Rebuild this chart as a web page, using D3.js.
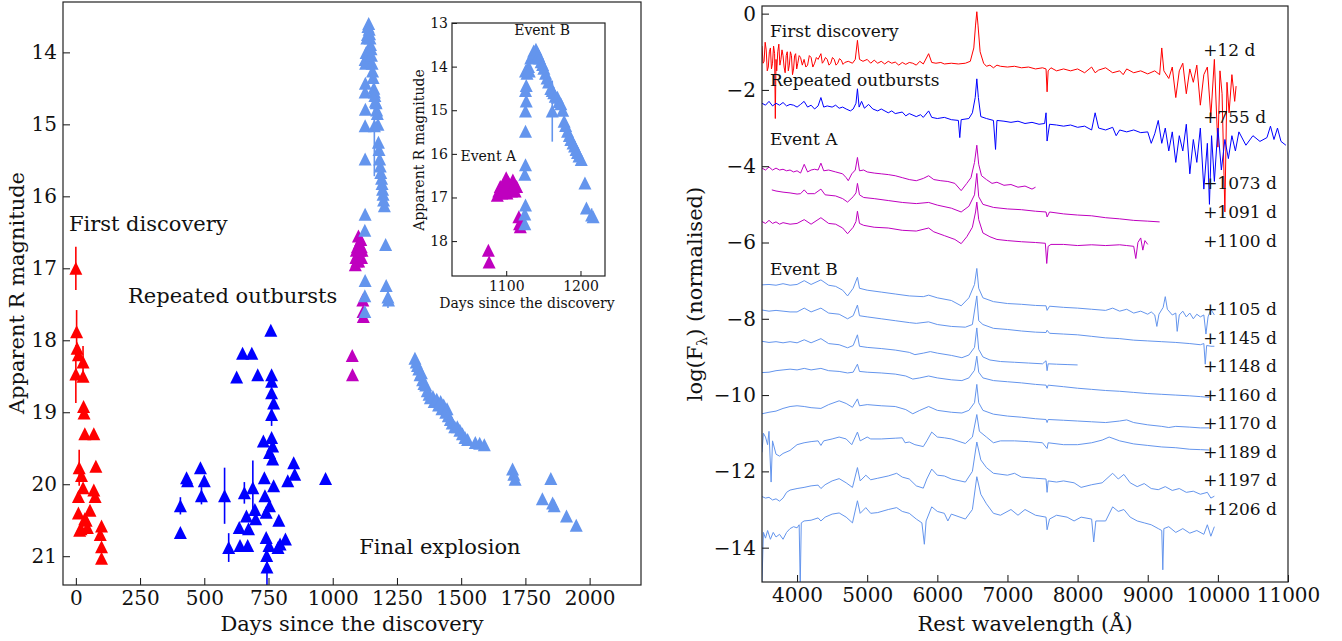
<!DOCTYPE html>
<html>
<head>
<meta charset="utf-8">
<script src="https://cdn.jsdelivr.net/npm/d3@7"></script>
<style>
	body { margin: 0; background: #fff; }
	svg { font-family: 'DejaVu Serif', serif; }
</style>
</head>
<body>
<script>
// ---- light curve: [days, R mag, error] ----
const firstDiscovery = [
	[0, 17.0, 0.3], [3, 17.88, 0.3], [5, 18.11, 0], [10, 18.2, 0], [0, 18.47, 0.4], [28, 18.3, 0.22],
	[28, 18.5, 0], [30, 18.92, 0], [32, 19.01, 0], [35, 19.3, 0], [70, 19.3, 0], [13, 19.77, 0.25],
	[78, 19.75, 0], [22, 19.88, 0], [28, 20.05, 0], [10, 20.17, 0], [70, 20.08, 0], [75, 20.17, 0],
	[10, 20.4, 0], [55, 20.36, 0], [35, 20.48, 0], [15, 20.64, 0], [45, 20.6, 0], [100, 20.58, 0],
	[95, 20.7, 0], [100, 20.87, 0], [100, 21.03, 0], [40, 20.5, 0], [20, 20.62, 0]
]
const repeatedOutbursts = [
	[407, 20.3, 0.12], [407, 20.67, 0], [431, 19.91, 0], [435, 19.95, 0], [485, 19.77, 0], [489, 20.16, 0.12],
	[500, 19.95, 0], [579, 20.16, 0.39], [595, 20.88, 0.2], [626, 18.51, 0], [649, 18.18, 0], [685, 18.18, 0],
	[708, 18.48, 0], [656, 20.12, 0.15], [639, 20.85, 0], [636, 20.6, 0], [669, 20.85, 0], [672, 20.62, 0],
	[689, 20.05, 0.38], [697, 20.35, 0], [664, 20.44, 0], [700, 20.48, 0], [730, 19.4, 0], [734, 19.91, 0],
	[736, 20.16, 0], [741, 20.39, 0], [754, 20.3, 0], [741, 20.74, 0], [743, 20.99, 0], [744, 21.15, 0.3],
	[752, 20.85, 0], [759, 17.86, 0], [762, 18.48, 0], [762, 18.57, 0], [762, 18.73, 0], [770, 18.87, 0],
	[762, 19.03, 0.16], [762, 19.35, 0], [766, 19.47, 0], [754, 19.56, 0], [766, 19.65, 0], [770, 20.02, 0],
	[790, 20.5, 0], [787, 20.88, 0], [795, 20.83, 0], [816, 20.76, 0], [825, 19.95, 0], [848, 19.7, 0],
	[852, 19.86, 0], [972, 19.92, 0.06]
]
const eventA = [
	[1076, 18.21, 0], [1077, 18.48, 0], [1088, 16.95, 0], [1090, 16.85, 0], [1092, 16.75, 0], [1094, 16.9, 0],
	[1096, 16.7, 0], [1098, 16.8, 0], [1100, 16.55, 0], [1101, 16.9, 0], [1103, 16.65, 0], [1105, 16.75, 0],
	[1107, 16.85, 0], [1109, 16.6, 0], [1111, 16.7, 0], [1112, 16.85, 0], [1114, 16.75, 0], [1117, 17.44, 0],
	[1118, 17.6, 0], [1119, 17.67, 0]
]
const eventB = [
	[1125, 17.6, 0], [1125, 17.38, 0], [1126, 17.17, 0], [1125, 16.47, 0], [1126, 16.25, 0], [1126, 15.48, 0],
	[1126, 15.02, 0], [1127, 14.79, 0], [1126, 14.55, 0], [1127, 14.43, 0], [1126, 14.1, 0], [1128, 14.15, 0],
	[1130, 14.0, 0], [1131, 14.1, 0], [1133, 13.8, 0], [1135, 13.75, 0], [1137, 13.64, 0], [1140, 13.6, 0],
	[1142, 13.68, 0], [1143.5, 13.74, 0], [1145, 13.8, 0], [1147, 13.89, 0], [1149, 13.95, 0], [1150.7, 14.04, 0],
	[1153, 14.15, 0], [1155, 14.26, 0], [1157, 14.35, 0], [1160, 14.5, 0], [1162, 15.02, 0.7], [1162, 14.55, 0],
	[1164, 14.6, 0], [1166, 14.68, 0], [1169, 14.7, 0], [1171, 14.8, 0], [1173.5, 14.85, 0], [1176, 15.0, 0],
	[1178, 15.25, 0], [1180, 15.35, 0], [1182.6, 15.48, 0], [1185, 15.58, 0], [1187, 15.67, 0], [1190, 15.75, 0],
	[1192, 15.82, 0], [1194, 15.9, 0], [1196, 15.97, 0], [1198, 16.05, 0], [1201, 16.13, 0], [1206, 16.67, 0],
	[1208, 17.24, 0], [1215, 17.4, 0.15], [1217, 17.44, 0]
]
const finalExplosion = [
	[1320, 18.25, 0], [1325, 18.3, 0], [1330, 18.35, 0], [1335, 18.4, 0], [1340, 18.48, 0], [1345, 18.45, 0],
	[1350, 18.55, 0], [1355, 18.6, 0], [1362, 18.62, 0], [1368, 18.7, 0], [1375, 18.75, 0], [1380, 18.8, 0],
	[1390, 18.78, 0], [1395, 18.85, 0], [1405, 18.82, 0], [1412, 18.9, 0], [1420, 18.85, 0], [1425, 18.95, 0],
	[1432, 18.9, 0], [1440, 19.0, 0], [1445, 18.95, 0], [1450, 19.05, 0], [1458, 19.1, 0], [1465, 19.15, 0],
	[1475, 19.2, 0], [1485, 19.2, 0], [1495, 19.25, 0], [1505, 19.3, 0], [1515, 19.35, 0], [1525, 19.38, 0],
	[1555, 19.42, 0], [1572, 19.43, 0], [1590, 19.45, 0], [1700, 19.79, 0], [1705, 19.86, 0], [1710, 19.93, 0],
	[1816, 20.2, 0], [1849, 19.92, 0], [1856, 20.26, 0], [1862, 20.3, 0], [1910, 20.44, 0], [1948, 20.57, 0]
]

// ---- spectra: [rest wavelength (A), log F (normalised, offset)] ----
const spec12 = [
	[3500, -0.85], [3515, -1.3], [3530, -1.25], [3545, -0.75], [3560, -0.95], [3575, -1.5], [3590, -1.4], [3605, -1.0],
	[3620, -0.9], [3635, -1.45], [3650, -1.3], [3665, -0.85], [3680, -1.05], [3690, -2.75], [3700, -1.2], [3710, -1.5],
	[3725, -1.0], [3740, -0.8], [3755, -1.35], [3770, -1.2], [3785, -0.95], [3800, -1.1], [3815, -1.4], [3830, -1.55],
	[3845, -1.1], [3860, -1.0], [3875, -1.5], [3890, -1.35], [3905, -1.0], [3920, -1.1], [3935, -1.6], [3950, -1.45],
	[3965, -1.1], [3980, -1.05], [3995, -1.45], [4010, -1.3], [4030, -1.1], [4050, -1.15], [4075, -1.35], [4100, -1.2],
	[4125, -1.4], [4150, -1.35], [4175, -1.1], [4200, -1.15], [4225, -1.4], [4250, -1.3], [4275, -1.15], [4300, -1.2],
	[4340, -1.05], [4360, -1.3], [4380, -1.25], [4405, -1.15], [4430, -1.2], [4455, -1.35], [4480, -1.3], [4505, -1.15],
	[4530, -1.2], [4555, -1.35], [4580, -1.3], [4605, -1.18], [4630, -1.22], [4655, -1.33], [4680, -1.28], [4730, -1.25],
	[4790, -1.3], [4830, -1.2], [4861, -0.7], [4890, -1.2], [4940, -1.25], [5000, -1.2],
	[5050, -1.3], [5100, -1.22], [5150, -1.3], [5200, -1.25], [5250, -1.32], [5300, -1.25], [5350, -1.3], [5400, -1.27],
	[5450, -1.35], [5500, -1.28], [5550, -1.33], [5600, -1.28], [5650, -1.3], [5700, -1.35], [5750, -1.25], [5800, -1.32],
	[5876, -1.05], [5920, -1.28], [5980, -1.3], [6050, -1.28], [6100, -1.32], [6200, -1.3], [6300, -1.32], [6400, -1.3],
	[6470, -1.25], [6520, -0.9], [6545, -0.3], [6563, 0.05], [6580, -0.3], [6610, -1.0], [6660, -1.3], [6700, -1.38],
	[6750, -1.35], [6800, -1.42], [6850, -1.35], [6900, -1.38], [7000, -1.4], [7100, -1.38], [7200, -1.42], [7300, -1.4],
	[7400, -1.45], [7500, -1.42], [7550, -1.45], [7565, -2.05], [7580, -1.5], [7620, -1.42], [7700, -1.5], [7800, -1.45],
	[7900, -1.5], [8000, -1.45], [8100, -1.55], [8200, -1.4], [8250, -1.55], [8300, -1.48], [8400, -1.42], [8500, -1.55],
	[8600, -1.5], [8650, -1.6], [8700, -1.45], [8800, -1.55], [8900, -1.5], [9000, -1.58], [9100, -1.5], [9170, -1.6],
	[9200, -0.9], [9230, -1.5], [9300, -1.7], [9350, -1.4], [9400, -2.2], [9450, -1.5], [9500, -1.3], [9550, -2.1],
	[9600, -1.45], [9650, -1.8], [9700, -1.35], [9750, -2.4], [9800, -1.6], [9850, -1.4], [9900, -2.7], [9950, -1.2],
	[10000, -3.5], [10030, -1.5], [10060, -2.1], [10100, -5.2], [10130, -1.8], [10160, -2.6], [10200, -1.6], [10240, -2.3],
	[10260, -1.9]
]
const spec755 = [
	[3500, -2.35], [3550, -2.4], [3600, -2.3], [3650, -2.42], [3700, -2.35], [3750, -2.4], [3800, -2.33], [3850, -2.42],
	[3900, -2.38], [3950, -2.4], [4000, -2.45], [4050, -2.38], [4100, -2.3], [4150, -2.45], [4200, -2.4], [4250, -2.5],
	[4300, -2.42], [4340, -2.2], [4380, -2.45], [4430, -2.42], [4500, -2.45], [4550, -2.4], [4600, -2.48], [4650, -2.45],
	[4700, -2.5], [4760, -2.55], [4800, -2.5], [4840, -2.35], [4861, -1.97], [4885, -2.45], [4920, -2.3], [4960, -2.48],
	[5020, -2.38], [5080, -2.5], [5150, -2.55], [5200, -2.5], [5300, -2.6], [5350, -2.55], [5400, -2.62], [5500, -2.58],
	[5550, -2.68], [5600, -2.62], [5700, -2.7], [5760, -2.65], [5800, -2.72], [5876, -2.55], [5920, -2.72], [6000, -2.75],
	[6100, -2.72], [6200, -2.78], [6300, -2.8], [6320, -3.25], [6340, -2.78], [6450, -2.75], [6500, -2.6], [6540, -2.2],
	[6563, -1.71], [6585, -2.2], [6620, -2.7], [6700, -2.75], [6800, -2.8], [6830, -3.56], [6850, -2.8], [6950, -2.82],
	[7050, -2.85], [7150, -2.82], [7250, -2.88], [7350, -2.85], [7450, -2.9], [7530, -2.88], [7550, -2.6], [7565, -3.34],
	[7600, -2.9], [7700, -2.92], [7800, -2.95], [7900, -2.92], [8000, -2.98], [8100, -2.95], [8200, -3.05], [8250, -2.6],
	[8300, -3.0], [8400, -3.05], [8500, -2.98], [8550, -3.2], [8600, -3.05], [8700, -3.1], [8800, -3.05], [8900, -3.12],
	[9000, -3.1], [9050, -3.4], [9100, -3.15], [9150, -2.8], [9200, -3.4], [9250, -3.0], [9300, -3.6], [9350, -3.1],
	[9400, -3.9], [9450, -3.2], [9500, -3.6], [9550, -2.9], [9600, -4.2], [9650, -3.3], [9700, -3.9], [9750, -3.0],
	[9800, -4.6], [9850, -3.4], [9880, -5.0], [9910, -3.2], [9950, -4.4], [10000, -3.0], [10050, -4.1], [10100, -3.3],
	[10150, -3.8], [10200, -3.2], [10250, -3.6], [10300, -3.1], [10400, -3.45], [10500, -3.2], [10600, -3.35], [10700, -3.25],
	[10750, -2.95], [10800, -3.3], [10850, -3.0], [10900, -3.35], [10970, -3.45]
]
const spec1073 = [
	[3500, -4.05], [3550, -4.1], [3600, -4.02], [3650, -4.1], [3700, -4.05], [3750, -4.1], [3800, -4.08], [3850, -4.12],
	[3900, -4.1], [3950, -4.15], [4000, -4.12], [4050, -4.18], [4102, -3.95], [4150, -4.15], [4200, -4.1], [4250, -4.08],
	[4300, -4.1], [4340, -3.92], [4380, -4.12], [4450, -4.1], [4550, -4.15], [4650, -4.2], [4700, -4.3], [4730, -4.38],
	[4780, -4.2], [4830, -4.1], [4861, -3.77], [4890, -4.12], [4950, -4.1], [5000, -4.15], [5100, -4.18], [5200, -4.2],
	[5300, -4.22], [5400, -4.25], [5500, -4.3], [5600, -4.35], [5700, -4.38], [5800, -4.32], [5876, -4.25], [5950, -4.35],
	[6050, -4.38], [6150, -4.4], [6250, -4.45], [6340, -4.64], [6420, -4.45], [6480, -4.3], [6530, -3.9], [6563, -3.45],
	[6590, -3.95], [6630, -4.25], [6700, -4.35], [6780, -4.45], [6850, -4.42], [6950, -4.5], [7050, -4.48], [7150, -4.55],
	[7250, -4.52], [7350, -4.6], [7400, -4.55]
]
const spec1091 = [
	[3640, -4.62], [3700, -4.65], [3800, -4.68], [3900, -4.7], [4000, -4.73], [4050, -4.72], [4102, -4.62], [4150, -4.72],
	[4250, -4.72], [4340, -4.6], [4400, -4.75], [4550, -4.78], [4650, -4.85], [4720, -4.94], [4800, -4.8], [4840, -4.7],
	[4861, -4.45], [4890, -4.75], [4950, -4.82], [5100, -4.85], [5300, -4.9], [5500, -4.95], [5700, -4.98], [5876, -4.95],
	[6000, -5.02], [6200, -5.1], [6340, -5.2], [6450, -5.05], [6530, -4.75], [6563, -4.19], [6590, -4.8], [6650, -5.0],
	[6800, -5.08], [7000, -5.12], [7200, -5.14], [7400, -5.18], [7550, -5.2], [7565, -5.33], [7600, -5.2], [7800, -5.25],
	[8000, -5.28], [8200, -5.3], [8400, -5.35], [8600, -5.38], [8800, -5.42], [9000, -5.44], [9170, -5.46]
]
const spec1100 = [
	[3500, -5.45], [3550, -5.5], [3600, -5.42], [3650, -5.5], [3700, -5.46], [3750, -5.52], [3800, -5.48], [3900, -5.52],
	[4000, -5.5], [4102, -5.4], [4200, -5.52], [4340, -5.35], [4450, -5.5], [4550, -5.52], [4650, -5.62], [4720, -5.77],
	[4800, -5.6], [4840, -5.45], [4861, -5.18], [4890, -5.5], [4950, -5.55], [5100, -5.6], [5300, -5.62], [5500, -5.68],
	[5700, -5.7], [5876, -5.62], [5950, -5.72], [6100, -5.82], [6250, -5.92], [6340, -6.03], [6420, -5.85], [6500, -5.6],
	[6545, -5.2], [6563, -4.94], [6590, -5.4], [6650, -5.75], [6750, -5.85], [6850, -5.92], [7000, -5.95], [7200, -5.98],
	[7400, -6.0], [7540, -6.02], [7560, -6.55], [7580, -6.1], [7620, -6.05], [7800, -6.05], [8000, -6.08], [8200, -6.06],
	[8400, -6.08], [8600, -6.06], [8700, -6.08], [8800, -6.1], [8830, -6.42], [8860, -6.0], [8900, -5.88], [8930, -6.2],
	[8960, -5.95], [9000, -6.05]
]
const spec1105 = [
	[3500, -7.11], [3600, -7.1], [3700, -7.12], [3800, -7.08], [3900, -7.12], [4000, -7.1], [4102, -7.0], [4200, -7.1],
	[4340, -6.98], [4450, -7.12], [4550, -7.15], [4650, -7.25], [4720, -7.4], [4800, -7.2], [4861, -6.91], [4890, -7.2],
	[5000, -7.25], [5200, -7.3], [5400, -7.35], [5600, -7.4], [5800, -7.42], [5876, -7.38], [6000, -7.45], [6200, -7.52],
	[6340, -7.66], [6450, -7.45], [6530, -7.1], [6563, -6.68], [6590, -7.2], [6650, -7.45], [6800, -7.55], [7000, -7.6],
	[7200, -7.62], [7400, -7.65], [7550, -7.66], [7565, -7.78], [7600, -7.67], [7800, -7.7], [8000, -7.72], [8200, -7.75],
	[8400, -7.78], [8500, -7.72], [8600, -7.8], [8700, -7.75], [8800, -7.85], [8900, -7.8], [9000, -7.88], [9050, -7.82],
	[9100, -7.9], [9130, -8.2], [9160, -7.88], [9220, -7.7], [9250, -7.42], [9280, -7.75], [9350, -7.9], [9400, -7.85],
	[9420, -8.33], [9450, -7.9], [9500, -7.8], [9550, -7.95], [9600, -7.85], [9650, -8.0], [9700, -7.88], [9750, -7.95],
	[9800, -7.9], [9830, -8.4], [9860, -7.95], [9900, -7.75], [9950, -7.9]
]
const spec1145 = [
	[3500, -7.77], [3600, -7.8], [3700, -7.78], [3800, -7.8], [3900, -7.82], [4000, -7.82], [4102, -7.72], [4200, -7.82],
	[4340, -7.72], [4450, -7.85], [4600, -7.88], [4720, -8.0], [4800, -7.92], [4861, -7.64], [4890, -7.92], [5000, -7.95],
	[5200, -8.0], [5400, -8.05], [5600, -8.1], [5700, -8.12], [5876, -8.08], [6000, -8.15], [6200, -8.2], [6400, -8.22],
	[6500, -8.15], [6563, -7.4], [6590, -8.05], [6650, -8.15], [6800, -8.25], [7000, -8.28], [7200, -8.32], [7400, -8.35],
	[7550, -8.36], [7565, -8.3], [7600, -8.38], [7800, -8.4], [8000, -8.42], [8200, -8.46], [8400, -8.5], [8600, -8.52],
	[8800, -8.56], [9000, -8.58], [9200, -8.6], [9400, -8.62], [9600, -8.65], [9750, -8.68], [9800, -8.65], [9820, -9.19],
	[9840, -8.7], [9900, -8.72], [9950, -8.72]
]
const spec1148 = [
	[3500, -8.59], [3600, -8.62], [3700, -8.6], [3800, -8.63], [3900, -8.6], [4000, -8.63], [4102, -8.55], [4200, -8.63],
	[4340, -8.52], [4450, -8.65], [4600, -8.68], [4720, -8.76], [4800, -8.7], [4861, -8.42], [4890, -8.72], [5000, -8.75],
	[5200, -8.78], [5400, -8.82], [5600, -8.88], [5680, -8.94], [5800, -8.9], [5900, -8.86], [6000, -8.9], [6200, -8.96],
	[6350, -9.02], [6450, -8.95], [6530, -8.75], [6563, -8.24], [6590, -8.8], [6650, -9.0], [6750, -9.08], [6900, -9.12],
	[7100, -9.14], [7300, -9.16], [7500, -9.18], [7550, -9.1], [7565, -9.36], [7580, -9.18], [7700, -9.19], [7850, -9.2],
	[8000, -9.21]
]
const spec1160 = [
	[3500, -9.41], [3600, -9.4], [3700, -9.36], [3800, -9.34], [3900, -9.32], [4000, -9.34], [4102, -9.3], [4200, -9.34],
	[4340, -9.3], [4450, -9.36], [4600, -9.38], [4720, -9.42], [4800, -9.4], [4861, -9.19], [4890, -9.38], [5000, -9.4],
	[5200, -9.42], [5400, -9.45], [5550, -9.5], [5650, -9.58], [5750, -9.55], [5876, -9.5], [6000, -9.55], [6200, -9.6],
	[6350, -9.62], [6450, -9.55], [6530, -9.35], [6563, -8.98], [6590, -9.4], [6650, -9.55], [6800, -9.62], [7000, -9.65],
	[7200, -9.68], [7400, -9.72], [7550, -9.74], [7565, -9.82], [7580, -9.74], [7800, -9.78], [8000, -9.82], [8200, -9.85],
	[8400, -9.88], [8600, -9.9], [8800, -9.93], [9000, -9.96], [9200, -9.98], [9400, -10.0], [9600, -10.02], [9750, -10.04],
	[9880, -10.06]
]
const spec1170 = [
	[3500, -10.49], [3600, -10.45], [3700, -10.42], [3800, -10.35], [3900, -10.3], [4000, -10.28], [4102, -10.3], [4200, -10.33],
	[4340, -10.35], [4450, -10.25], [4600, -10.15], [4700, -10.22], [4790, -10.32], [4861, -10.1], [4890, -10.28], [5000, -10.25],
	[5200, -10.28], [5400, -10.3], [5550, -10.38], [5650, -10.49], [5750, -10.4], [5876, -10.3], [6000, -10.4], [6200, -10.45],
	[6350, -10.47], [6450, -10.4], [6530, -10.2], [6563, -9.72], [6590, -10.2], [6650, -10.4], [6800, -10.5], [7000, -10.55],
	[7200, -10.58], [7400, -10.62], [7550, -10.64], [7565, -10.72], [7580, -10.64], [7800, -10.66], [8000, -10.68], [8200, -10.7],
	[8400, -10.72], [8600, -10.68], [8700, -10.65], [8800, -10.72], [9000, -10.78], [9200, -10.82], [9300, -10.85], [9400, -10.82],
	[9600, -10.84], [9750, -10.86], [9880, -10.86]
]
const spec1189 = [
	[3500, -11.5], [3520, -11.0], [3550, -11.1], [3580, -11.3], [3600, -10.95], [3630, -12.28], [3650, -11.2], [3700, -11.55],
	[3750, -11.6], [3800, -11.53], [3900, -11.45], [4000, -11.3], [4100, -11.25], [4200, -11.22], [4300, -11.2], [4340, -11.32],
	[4380, -11.2], [4500, -11.15], [4600, -11.1], [4700, -11.15], [4780, -11.3], [4861, -10.97], [4900, -11.2], [5000, -11.1],
	[5050, -11.15], [5200, -11.15], [5400, -11.13], [5500, -11.12], [5540, -11.25], [5600, -11.23], [5680, -11.3], [5800, -11.35],
	[5850, -11.2], [5920, -10.97], [6000, -11.1], [6100, -11.12], [6200, -11.15], [6400, -11.27], [6500, -11.1], [6563, -10.51],
	[6600, -10.95], [6700, -11.1], [6800, -11.25], [6900, -11.2], [7100, -11.2], [7300, -11.22], [7500, -11.25], [7565, -11.4],
	[7580, -11.25], [7800, -11.3], [8000, -11.3], [8200, -11.25], [8350, -11.18], [8450, -11.1], [8600, -11.2], [8800, -11.28],
	[9000, -11.32], [9200, -11.36], [9400, -11.38], [9600, -11.42], [9750, -11.43], [9880, -11.44]
]
const spec1197 = [
	[3500, -12.66], [3550, -12.7], [3600, -12.68], [3650, -12.75], [3700, -12.72], [3750, -12.78], [3800, -12.7], [3850, -12.55],
	[3900, -12.49], [4000, -12.45], [4100, -12.42], [4200, -12.38], [4300, -12.36], [4340, -12.45], [4400, -12.35], [4500, -12.25],
	[4600, -12.19], [4700, -12.3], [4790, -12.42], [4861, -11.9], [4900, -12.25], [4980, -12.1], [5050, -12.22], [5150, -12.18],
	[5300, -12.12], [5420, -12.05], [5500, -12.15], [5600, -12.2], [5700, -12.38], [5800, -12.44], [5850, -12.2], [5920, -11.94],
	[6000, -12.1], [6100, -12.12], [6200, -12.2], [6400, -12.28], [6500, -12.0], [6563, -11.23], [6620, -11.7], [6700, -11.9],
	[6800, -12.05], [7000, -12.1], [7100, -12.05], [7200, -12.15], [7400, -12.18], [7550, -12.2], [7565, -12.55], [7580, -12.25],
	[7700, -12.28], [7800, -12.25], [7950, -12.3], [8050, -12.42], [8200, -12.35], [8350, -12.3], [8500, -12.05], [8580, -12.2],
	[8660, -12.08], [8750, -12.3], [8850, -12.4], [8950, -12.32], [9050, -12.45], [9150, -12.48], [9250, -12.4], [9350, -12.5],
	[9450, -12.45], [9550, -12.55], [9650, -12.52], [9750, -12.6], [9850, -12.55], [9900, -12.7], [9950, -12.65]
]
const spec1206 = [
	[3500, -14.9], [3520, -13.6], [3550, -13.75], [3580, -13.55], [3620, -13.78], [3660, -13.6], [3700, -13.72], [3750, -13.65],
	[3800, -13.78], [3850, -13.6], [3900, -13.5], [3950, -13.45], [4000, -13.48], [4030, -13.4], [4045, -15.0], [4060, -13.35],
	[4100, -13.3], [4200, -13.28], [4300, -13.22], [4340, -13.3], [4400, -13.2], [4500, -13.12], [4600, -13.09], [4700, -13.2],
	[4790, -13.35], [4861, -12.77], [4900, -13.1], [4980, -12.95], [5050, -13.1], [5150, -13.08], [5300, -13.0], [5420, -12.95],
	[5500, -13.05], [5600, -13.1], [5700, -13.25], [5780, -13.35], [5815, -13.91], [5840, -13.3], [5920, -12.93], [6000, -13.05],
	[6100, -13.1], [6150, -13.3], [6200, -13.12], [6400, -13.25], [6500, -13.0], [6563, -12.14], [6620, -12.6], [6700, -12.85],
	[6800, -13.1], [6900, -13.15], [7050, -13.0], [7150, -13.15], [7250, -13.0], [7400, -13.15], [7550, -13.2], [7565, -13.53],
	[7600, -13.25], [7700, -13.15], [7850, -13.2], [7950, -13.3], [8050, -13.2], [8200, -13.25], [8230, -13.85], [8260, -13.3],
	[8400, -13.3], [8500, -12.93], [8580, -13.05], [8660, -13.0], [8750, -13.2], [8850, -13.3], [8950, -13.35], [9050, -13.4],
	[9150, -13.5], [9200, -13.55], [9215, -14.58], [9230, -13.5], [9300, -13.45], [9400, -13.6], [9500, -13.5], [9600, -13.62],
	[9700, -13.55], [9800, -13.65], [9850, -13.4], [9900, -13.7], [9950, -13.45]
]
const epochs = ['+12 d', '+755 d', '+1073 d', '+1091 d', '+1100 d', '+1105 d', '+1145 d', '+1148 d', '+1160 d', '+1170 d', '+1189 d', '+1197 d', '+1206 d']

// ---- ticks ----
const lcTicksX = [0, 250, 500, 750, 1000, 1250, 1500, 1750, 2000]
const lcTicksY = [14, 15, 16, 17, 18, 19, 20, 21]
const insetTicksX = [1100, 1200]
const insetTicksY = [13, 14, 15, 16, 17, 18]
const specTicksX = [4000, 5000, 6000, 7000, 8000, 9000, 10000, 11000]
const specTicksY = [0, -2, -4, -6, -8, -10, -12, -14]

const RED = '#ff0000', BLUE = '#0000ff', MAG = '#bf00bf', CBLUE = '#6495ed'

const svg = d3.select('body').append('svg').attr('width', 1342).attr('height', 641)
const defs = svg.append('defs')

function clip(id, w, h) {
	defs.append('clipPath').attr('id', id).append('rect').attr('width', w).attr('height', h)
	return 'url(#' + id + ')'
}

function range(a, b, step) {
	return d3.range(Math.round(a / step), Math.round(b / step) + 1).map(i => +(i * step).toFixed(4))
}

// inward ticks on left and bottom, frame all round
function drawAxes(g, x, y, o) {
	const w = x.range()[1], h = y.range()[1]
	const fmt = d => d3.format('d')(d).replace('-', '\u2212')
	const bx = g.append('g').attr('transform', 'translate(0,' + h + ')')
	bx.call(d3.axisBottom(x).tickValues(o.minX).tickSizeInner(-o.minor).tickSizeOuter(0).tickFormat(''))
	bx.call(d3.axisBottom(x).tickValues(o.ticksX).tickSizeInner(-o.major).tickSizeOuter(0).tickPadding(o.padX).tickFormat(fmt))
	const ly = g.append('g')
	ly.call(d3.axisLeft(y).tickValues(o.minY).tickSizeInner(-o.minor).tickSizeOuter(0).tickFormat(''))
	ly.call(d3.axisLeft(y).tickValues(o.ticksY).tickSizeInner(-o.major).tickSizeOuter(0).tickPadding(o.padY).tickFormat(fmt))
	g.selectAll('.domain').remove()
	g.selectAll('.tick line').attr('stroke', '#111').attr('stroke-width', 1)
	g.selectAll('.tick text').attr('font-family', "'DejaVu Serif', serif").attr('font-size', o.font).attr('fill', '#111')
	g.append('rect').attr('width', w).attr('height', h).attr('fill', 'none').attr('stroke', '#222').attr('stroke-width', 1.2)
}

function triangle(s) {
	return 'M0,' + (-s / 2) + 'L' + (s / 2) + ',' + (s / 2) + 'L' + (-s / 2) + ',' + (s / 2) + 'Z'
}

function drawPoints(g, x, y, data, color, s) {
	const errs = data.filter(d => d[2] > 0)
	g.selectAll(null).data(errs).join('line')
		.attr('x1', d => x(d[0])).attr('x2', d => x(d[0]))
		.attr('y1', d => y(d[1] - d[2])).attr('y2', d => y(d[1] + d[2]))
		.attr('stroke', color).attr('stroke-width', 1.6)
	g.selectAll(null).data(data).join('path')
		.attr('d', triangle(s))
		.attr('transform', d => 'translate(' + x(d[0]) + ',' + y(d[1]) + ')')
		.attr('fill', color)
}

function label(g, x, y, text, size, anchor) {
	return g.append('text').attr('x', x).attr('y', y).attr('font-size', size)
		.attr('text-anchor', anchor || 'start').attr('fill', '#111').text(text)
}

// ================= light curve =================
const lc = svg.append('g').attr('transform', 'translate(63,2)')
const xL = d3.scaleLinear().domain([-50, 2200]).range([0, 578])
const yL = d3.scaleLinear().domain([13.3, 21.4]).range([0, 583])

const lcBody = lc.append('g').attr('clip-path', clip('clipL', 578, 583))
const lcSeries = [[firstDiscovery, RED], [repeatedOutbursts, BLUE], [eventA, MAG], [eventB, CBLUE], [finalExplosion, CBLUE]]
lcSeries.forEach(s => drawPoints(lcBody, xL, yL, s[0], s[1], 13))

drawAxes(lc, xL, yL, {
	ticksX: lcTicksX, ticksY: lcTicksY, minX: range(-50, 2200, 50), minY: range(13.4, 21.4, 0.2),
	major: 7, minor: 4, padX: 6, padY: 6, font: 20
})
label(lc, xL(-27), yL(16.48), 'First discovery', 21)
label(lc, xL(203), yL(17.48), 'Repeated outbursts', 21)
label(lc, xL(1103), yL(20.97), 'Final explosion', 21)
label(svg, 352, 631, 'Days since the discovery', 21, 'middle')
label(svg, 0, 0, 'Apparent R magnitude', 21, 'middle').attr('transform', 'translate(24,293) rotate(-90)')

// ---- inset ----
const ins = svg.append('g').attr('transform', 'translate(452,23)')
const xI = d3.scaleLinear().domain([1027, 1233]).range([0, 153])
const yI = d3.scaleLinear().domain([13, 18.8]).range([0, 253])
ins.append('rect').attr('width', 153).attr('height', 253).attr('fill', '#fff')
const insBody = ins.append('g').attr('clip-path', clip('clipI', 153, 253))
lcSeries.forEach(s => drawPoints(insBody, xI, yI, s[0], s[1], 13))
drawAxes(ins, xI, yI, {
	ticksX: insetTicksX, ticksY: insetTicksY, minX: range(1040, 1220, 20), minY: range(13.2, 18.8, 0.2),
	major: 5, minor: 3, padX: 5, padY: 4, font: 14
})
label(ins, xI(1110.7), yI(13.27), 'Event B', 14)
label(ins, xI(1038.4), yI(16.17), 'Event A', 14)
label(svg, 527, 308, 'Days since the discovery', 14, 'middle')
label(svg, 0, 0, 'Apparent R magnitude', 14, 'middle').attr('transform', 'translate(424,150) rotate(-90)')

// ================= spectra =================
const sp = svg.append('g').attr('transform', 'translate(762,6)')
const xR = d3.scaleLinear().domain([3500, 11000]).range([0, 526])
const yR = d3.scaleLinear().domain([0.2, -14.9]).range([0, 576])
const specBody = sp.append('g').attr('clip-path', clip('clipR', 526, 576))
const spectra = [
	[spec12, RED], [spec755, BLUE], [spec1073, MAG], [spec1091, MAG], [spec1100, MAG],
	[spec1105, CBLUE], [spec1145, CBLUE], [spec1148, CBLUE], [spec1160, CBLUE], [spec1170, CBLUE],
	[spec1189, CBLUE], [spec1197, CBLUE], [spec1206, CBLUE]
]
const line = d3.line().x(d => xR(d[0])).y(d => yR(d[1]))
specBody.selectAll(null).data(spectra).join('path')
	.attr('d', d => line(d[0])).attr('fill', 'none')
	.attr('stroke', d => d[1]).attr('stroke-width', 1).attr('stroke-linejoin', 'round')

drawAxes(sp, xR, yR, {
	ticksX: specTicksX, ticksY: specTicksY, minX: range(3600, 11000, 200), minY: range(-14.5, 0, 0.5),
	major: 7, minor: 4, padX: 6, padY: 6, font: 20
})

// epoch labels sit in a column near the right edge
const epochY = [-1.0, -2.75, -4.49, -5.25, -6.0, -7.77, -8.55, -9.28, -10.03, -10.78, -11.53, -12.27, -13.02]
epochs.forEach((t, i) => label(sp, xR(9790), yR(epochY[i]), t, 17).attr('dominant-baseline', 'middle'))

label(sp, xR(3614), yR(-0.61), 'First discovery', 17)
label(sp, xR(3614), yR(-1.91), 'Repeated outbursts', 17)
label(sp, xR(3614), yR(-3.44), 'Event A', 17)
label(sp, xR(3614), yR(-6.85), 'Event B', 17)

label(svg, 1025, 631, 'Rest wavelength (\u00c5)', 21, 'middle')
const yl = label(svg, 0, 0, 'log(F', 21, 'middle').attr('transform', 'translate(702,294) rotate(-90)')
yl.append('tspan').attr('font-size', 14).attr('dy', 5).text('\u03bb')
yl.append('tspan').attr('dy', -5).text(') (normalised)')
</script>
</body>
</html>
